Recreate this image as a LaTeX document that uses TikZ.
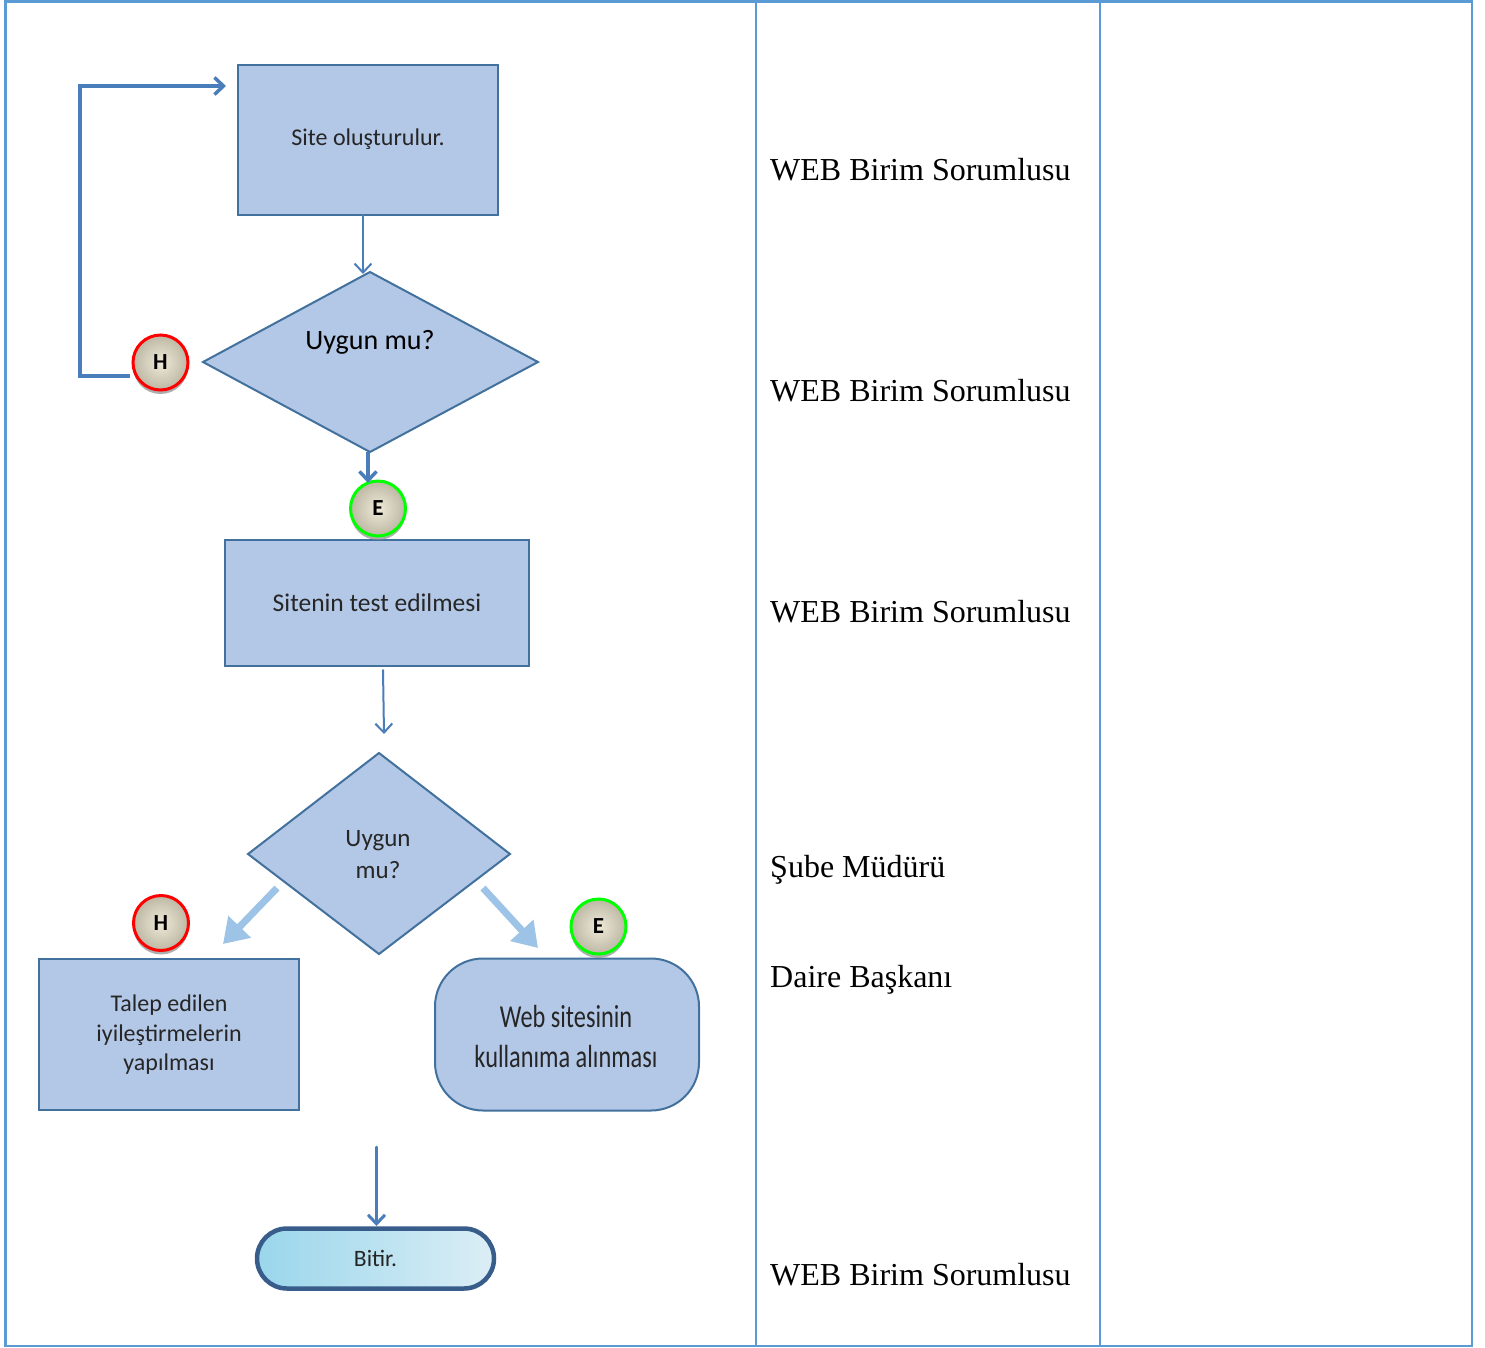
\documentclass[tikz,border=0pt]{standalone}
\usepackage{fontspec}
\usepackage{graphicx}
\setmainfont{Liberation Serif}
\newfontfamily\boxfont{Carlito}
\usetikzlibrary{shapes.geometric,arrows.meta,shadows,calc}
\definecolor{gridblue}{HTML}{5B9BD5}
\definecolor{boxfill}{HTML}{B3C7E6}
\definecolor{boxline}{HTML}{41719C}
\definecolor{arrowblue}{HTML}{4A7EBB}
\definecolor{paleblue}{HTML}{9DC3E6}
\definecolor{termline}{HTML}{385D8A}
\definecolor{badgein}{HTML}{EFEAD8}
\definecolor{badgeout}{HTML}{BDB8A4}
\tikzset{
  gridline/.style={draw=gridblue,line width=2.6pt},
  flowbox/.style={draw=boxline,line width=2pt,fill=boxfill,rectangle,minimum width=#1,inner sep=0pt,font=\boxfont,text=black!85,align=center},
  flowdia/.style={draw=boxline,line width=2pt,fill=boxfill,inner sep=0pt},
  conn/.style={draw=arrowblue,line width=#1,-{Straight Barb[length=9pt,width=17pt,line width=#1]},line cap=round},
  pale/.style={draw=paleblue,line width=7pt,-{Triangle[length=24pt,width=30pt]}},
  badge/.style={circle,draw=#1,line width=3pt,inner sep=0pt,minimum width=55pt,minimum height=52pt,
     inner color=badgein,outer color=badgeout,font=\boxfont\bfseries\fontsize{23}{23}\selectfont,text=black,
     drop shadow={shadow xshift=0pt,shadow yshift=-4pt,fill=black!45,opacity=0.7}},
  role/.style={anchor=west,inner sep=0pt,font=\fontsize{32}{32}\selectfont,text=black},
  lbl/.style={inner sep=0pt,font=\boxfont,text=black!85,align=center}
}
\begin{document}
\begin{tikzpicture}[x=1pt,y=-1pt]
\useasboundingbox (0,0) rectangle (1485,1347);
\fill[white] (0,0) rectangle (1485,1347);
% table
\coordinate (tl) at (5.5,1.5);
\coordinate (tr) at (1472,1.5);
\coordinate (bl) at (5.5,1346);
\coordinate (br) at (1472,1346);
\coordinate (c1t) at (756,1.5);
\coordinate (c1b) at (756,1346);
\coordinate (c2t) at (1100,1.5);
\coordinate (c2b) at (1100,1346);
\draw[gridline] (tl) -- (tr) -- (br) -- (bl) -- cycle;
\draw[gridline] (c1t) -- (c1b);
\draw[gridline] (c2t) -- (c2b);
% boxes
\node[flowbox=260pt,minimum height=150pt,font=\boxfont\fontsize{24}{24}\selectfont] (site) at (368,139.5) {Site oluşturulur.};
\node[flowbox=304pt,minimum height=126pt,font=\boxfont\fontsize{25.5}{25.5}\selectfont] (test) at (377,602.5) {Sitenin test edilmesi};
\node[flowbox=260pt,minimum height=151pt] (talep) at (169,1034) {};
\node[lbl,font=\boxfont\fontsize{24}{29.5}\selectfont] (talept) at (169,1035) {Talep edilen\\iyileştirmelerin\\yapılması};
% diamonds
\coordinate (d1n) at (370,272);
\coordinate (d1e) at (538,362);
\coordinate (d1s) at (370,452);
\coordinate (d1w) at (203,362);
\draw[flowdia] (d1n) -- (d1e) -- (d1s) -- (d1w) -- cycle;
\node[lbl,font=\boxfont\fontsize{28}{28}\selectfont,text=black] (d1t) at (370,342) {Uygun mu?};
\coordinate (d2n) at (379,753);
\coordinate (d2e) at (510,854);
\coordinate (d2s) at (379,954);
\coordinate (d2w) at (248,854);
\draw[flowdia] (d2n) -- (d2e) -- (d2s) -- (d2w) -- cycle;
\node[lbl,font=\boxfont\fontsize{25}{32}\selectfont] (d2t) at (378,855) {Uygun\\mu?};
% web terminator
\node[draw=boxline,line width=2pt,fill=boxfill,rectangle,rounded corners=48pt,minimum width=264pt,minimum height=152pt,inner sep=0pt] (web) at (567,1034.5) {};
\node[lbl,font=\boxfont\fontsize{32}{40}\selectfont] (webt) at (566,1036) {\scalebox{0.76}[1]{Web sitesinin}\\\scalebox{0.76}[1]{kullanıma alınması}};
% end
\node[draw=termline,line width=4.5pt,rectangle,rounded corners=30pt,minimum width=237pt,minimum height=60pt,inner sep=0pt,
  left color=black!0!paleblue!20!cyan!0!white,left color={rgb,255:red,154;green,214;blue,235},right color={rgb,255:red,220;green,238;blue,246},font=\boxfont\fontsize{23.5}{23.5}\selectfont,text=black!85] (bitir) at (375.5,1258.5) {Bitir.};
% badges
\node[badge=red] (h1) at (160.5,362.5) {H};
\node[badge=green] (e1) at (378,508.5) {E};
\node[badge=red] (h2) at (161,923) {H};
\node[badge=green] (e2) at (598.5,926.5) {E};
% connector anchors
\coordinate (a1s) at (363,215);
\coordinate (a1e) at (363,274);
\coordinate (a2s) at (130,376);
\coordinate (a2c) at (80,376);
\coordinate (a2d) at (80,86);
\coordinate (a2e) at (226,86);
\coordinate (a3s) at (368,452);
\coordinate (a3e) at (368,483);
\coordinate (a4s) at (383,670);
\coordinate (a4e) at (384,734);
\coordinate (a5s) at (277,888);
\coordinate (a5e) at (223,944);
\coordinate (a6s) at (483,888);
\coordinate (a6e) at (538,948);
\coordinate (a7s) at (376.5,1147);
\coordinate (a7e) at (376.5,1226);
\draw[conn=2pt] (a1s) -- (a1e);
\draw[conn=3.5pt,line cap=butt,line join=miter] (a2s) -- (a2c) -- (a2d) -- (a2e);
\draw[conn=3.5pt,line cap=butt] (a3s) -- (a3e);
\draw[conn=2pt] (a4s) -- (a4e);
\draw[pale] (a5s) -- (a5e);
\draw[pale] (a6s) -- (a6e);
\draw[conn=3pt] (a7s) -- (a7e);
% roles
\node[role] (r1) at (770,170) {WEB Birim Sorumlusu};
\node[role] (r2) at (770,391) {WEB Birim Sorumlusu};
\node[role] (r3) at (770,612) {WEB Birim Sorumlusu};
\node[role] (r4) at (770,870) {Şube Müdürü};
\node[role] (r5) at (770,980) {Daire Başkanı};
\node[role] (r6) at (770,1275) {WEB Birim Sorumlusu};
\end{tikzpicture}
\end{document}
